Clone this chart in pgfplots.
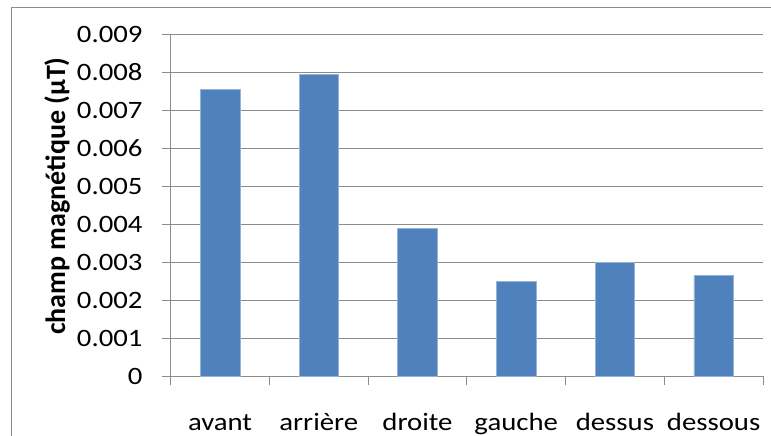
\documentclass[border=0pt]{standalone}
\usepackage{pgfplots}
\pgfplotsset{compat=1.18}
\usepackage{fontspec}
\setmainfont{Carlito}
\newfontfamily\tickfont{Carlito}[FakeStretch=1.15]
\definecolor{barblue}{HTML}{4F81BD}
\definecolor{gridgray}{HTML}{8C8C8C}
\definecolor{framegray}{HTML}{8C8C8C}
\begin{document}
\begin{tikzpicture}[x=1pt,y=1pt]
\path[use as bounding box] (0,0) rectangle (771,436);
\draw[framegray, line width=1pt] (11,-5) -- (11,428) -- (790,428);
\begin{axis}[
  at={(170.7pt,59.7pt)}, anchor=south west,
  width=592.3pt, height=342pt, scale only axis,
  xmin=-0.5, xmax=5.5, ymin=0, ymax=0.009,
  scaled y ticks=false,
  axis x line*=bottom, axis y line*=left,
  axis line style={draw=gridgray, line width=0.9pt, -},
  xtick={0,1,2,3,4,5},
  xticklabels={avant,arrière,droite,gauche,dessus,dessous},
  major x tick style={draw=none},
  minor xtick={-0.5,0.5,1.5,2.5,3.5,4.5,5.5},
  minor tick length=9pt,
  minor x tick style={draw=gridgray, line width=0.9pt},
  ytick={0,0.001,0.002,0.003,0.004,0.005,0.006,0.007,0.008,0.009},
  yticklabels={0,0.001,0.002,0.003,0.004,0.005,0.006,0.007,0.008,0.009},
  major tick length=9pt,
  tick align=outside,
  major y tick style={draw=gridgray, line width=0.9pt},
  ymajorgrids,
  major grid style={draw=gridgray, line width=0.9pt},
  tick label style={font=\tickfont\fontsize{25}{30}\selectfont, text=black},
  yticklabel style={anchor=east, inner sep=0pt, xshift=-19pt},
  xticklabel style={anchor=base, inner sep=0pt, yshift=-45.7pt},
  ylabel={champ magnétique (µT)},
  every axis y label/.style={at={(axis description cs:0,0.527)}, xshift=-113.7pt, rotate=90, anchor=center, font=\bfseries\fontsize{28}{32}\selectfont},
  ybar, bar width=0.4,
  clip=false,
]
\addplot[fill=barblue, draw=barblue!60!white, line width=0.5pt] coordinates {
  (0,0.00755) (1,0.00794) (2,0.0039) (3,0.0025) (4,0.00299) (5,0.00265)
};
\end{axis}
\end{tikzpicture}
\end{document}
